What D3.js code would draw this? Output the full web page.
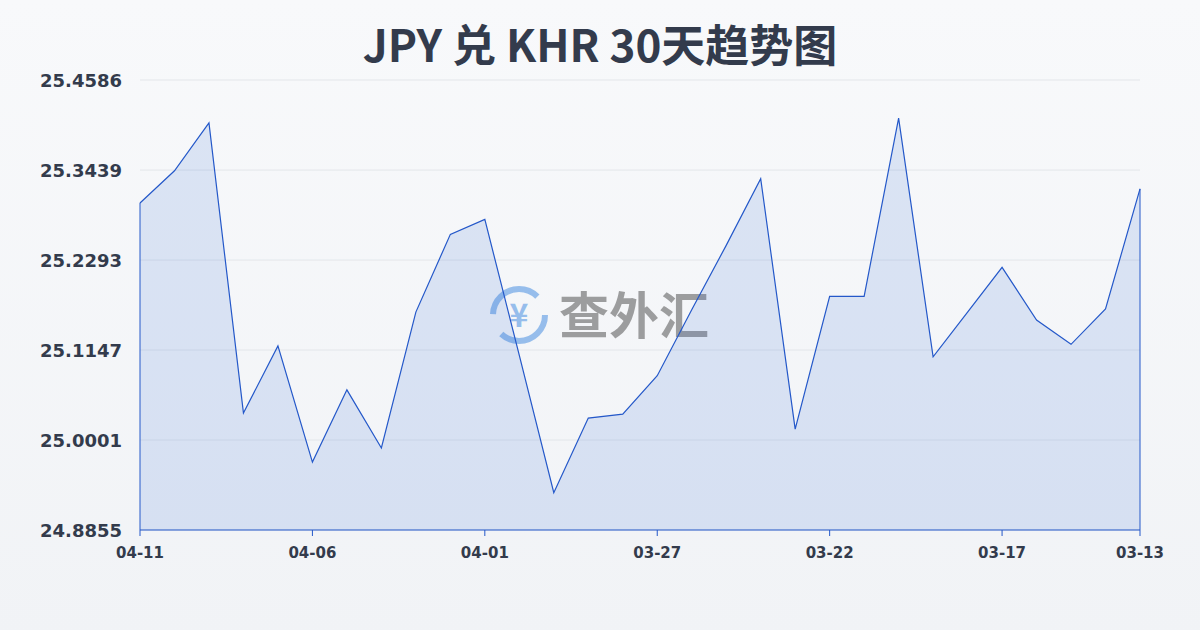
<!DOCTYPE html>
<html><head><meta charset="utf-8">
<script src="https://cdn.jsdelivr.net/npm/d3@7/dist/d3.min.js"></script>
<style>
body{margin:0;background:linear-gradient(#f8f9fb,#f1f3f6);font-family:"Noto Sans CJK SC","Noto Sans",sans-serif}
</style></head><body>
<svg id="c" width="1200" height="630"></svg>
<script>
const dates = ['04-11','04-10','04-09','04-08','04-07','04-06','04-05','04-04','04-03','04-02','04-01','03-31','03-30','03-29','03-28','03-27','03-26','03-25','03-24','03-23','03-22','03-21','03-20','03-19','03-18','03-17','03-16','03-15','03-14','03-13']
const rates = [25.302,25.343,25.404,25.0345,25.120,24.972,25.064,24.990,25.163,25.262,25.281,25.108,24.933,25.028,25.033,25.082,25.166,25.248,25.333,25.014,25.183,25.183,25.410,25.106,25.163,25.220,25.153,25.122,25.167,25.320]
const yTicks = [24.8855,25.0001,25.1147,25.2293,25.3439,25.4586]
const xTicks = ['04-11','04-06','04-01','03-27','03-22','03-17','03-13']

const svg = d3.select('#c')
const x = d3.scaleLinear().domain([0, dates.length-1]).range([140, 1140])
const y = d3.scaleLinear().domain([yTicks[0], yTicks[yTicks.length-1]]).range([530, 80])

svg.append('text').attr('x',600).attr('y',62).attr('text-anchor','middle')
  .attr('font-size',44).attr('font-weight','bold').attr('fill','#333b4c').text('JPY 兑 KHR 30天趋势图')

svg.append('g').selectAll('line').data(yTicks).join('line')
  .attr('x1',140).attr('x2',1140).attr('y1',d=>y(d)).attr('y2',d=>y(d))
  .attr('stroke','#e3e6ea')

svg.append('g').selectAll('text').data(yTicks).join('text')
  .attr('x',122).attr('y',d=>y(d)+7).attr('text-anchor','end')
  .attr('font-family','"DejaVu Sans",sans-serif')
  .attr('font-size',18).attr('font-weight','bold').attr('fill','#333b4c').text(d=>d.toFixed(4))

// watermark
const wm = svg.append('g').attr('opacity',0.55)
wm.append('circle').attr('cx',519).attr('cy',315).attr('r',26).attr('fill','none').attr('stroke','#4a90e2').attr('stroke-width',6).attr('stroke-dasharray','60 22')
wm.append('text').attr('x',519).attr('y',327).attr('text-anchor','middle').attr('font-size',32).attr('font-weight','bold').attr('fill','#4a90e2').text('¥')
wm.append('text').attr('x',559).attr('y',334).attr('font-size',50).attr('font-weight','bold').attr('fill','#555').text('查外汇')

const area = d3.area().x((d,i)=>x(i)).y0(530).y1(d=>y(d))
const line = d3.line().x((d,i)=>x(i)).y(d=>y(d))
svg.append('path').datum(rates).attr('d',area).attr('fill','#2f6bd8').attr('fill-opacity',0.14)
svg.append('path').datum(rates).attr('d',line).attr('fill','none').attr('stroke','#2458c9').attr('stroke-width',1.2)

svg.append('line').attr('x1',140).attr('x2',140).attr('y1',y(rates[0])).attr('y2',530).attr('stroke','#2458c9')
svg.append('line').attr('x1',1140).attr('x2',1140).attr('y1',y(rates[29])).attr('y2',530).attr('stroke','#2458c9')
svg.append('line').attr('x1',140).attr('x2',1140).attr('y1',530).attr('y2',530).attr('stroke','#2458c9')

const xg = svg.append('g').selectAll('g').data(xTicks).join('g')
  .attr('transform',d=>`translate(${x(dates.indexOf(d))},530)`)
xg.append('line').attr('y2',6).attr('stroke','#2458c9')
xg.append('text').attr('y',28).attr('text-anchor','middle')
  .attr('font-family','"DejaVu Sans",sans-serif')
  .attr('font-size',15).attr('font-weight','bold').attr('fill','#333b4c').text(d=>d)
</script></body></html>
